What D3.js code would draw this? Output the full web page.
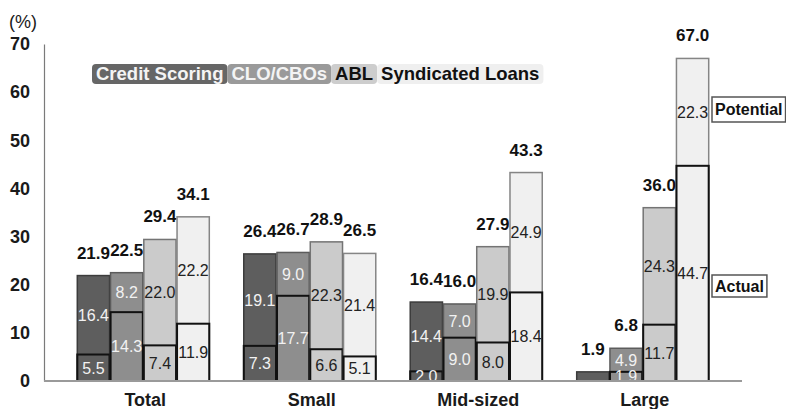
<!DOCTYPE html>
<html>
<head>
<meta charset="utf-8">
<script src="https://cdn.jsdelivr.net/npm/d3@7/dist/d3.min.js"></script>
<style>
  html, body { margin: 0; padding: 0; background: #fff; }
  svg { display: block; font-family: "Liberation Sans", Arial, sans-serif; }
</style>
</head>
<body>
<svg id="chart" width="786" height="409"></svg>
<script>
// Firm-size categories and instrument series
const categories = ["Total", "Small", "Mid-sized", "Large"];
const seriesNames = ["Credit Scoring", "CLO/CBOs", "ABL", "Syndicated Loans"];

// Actual usage (%) per category; null where no split is reported
const creditScoringActual = [5.5, 7.3, 2.0, null];
const cloActual = [14.3, 17.7, 9.0, 1.9];
const ablActual = [7.4, 6.6, 8.0, 11.7];
const syndicatedActual = [11.9, 5.1, 18.4, 44.7];

// Potential usage (%) on top of actual
const creditScoringPotential = [16.4, 19.1, 14.4, null];
const cloPotential = [8.2, 9.0, 7.0, 4.9];
const ablPotential = [22.0, 22.3, 19.9, 24.3];
const syndicatedPotential = [22.2, 21.4, 24.9, 22.3];

// Totals shown above each bar
const creditScoringTotal = [21.9, 26.4, 16.4, 1.9];
const cloTotal = [22.5, 26.7, 16.0, 6.8];
const ablTotal = [29.4, 28.9, 27.9, 36.0];
const syndicatedTotal = [34.1, 26.5, 43.3, 67.0];

const yTicks = [0, 10, 20, 30, 40, 50, 60, 70];

const actualBySeries = [creditScoringActual, cloActual, ablActual, syndicatedActual];
const potentialBySeries = [creditScoringPotential, cloPotential, ablPotential, syndicatedPotential];
const totalBySeries = [creditScoringTotal, cloTotal, ablTotal, syndicatedTotal];

const fills = ["#5e5e5e", "#8e8e8e", "#cbcbcb", "#f0f0f0"];
const legendFills = ["#666666", "#9a9a9a", "#cdcdcd", "#efefef"];
const strokes = ["#3c3c3c", "#5c5c5c", "#747474", "#858585"];
const labelColors = ["#f2f2f2", "#f2f2f2", "#222", "#222"];

const svg = d3.select("#chart");

const x0 = d3.scaleBand().domain(categories).range([44, 742])
  .paddingInner(0.207).paddingOuter(0.2);
const x1 = d3.scaleBand().domain(seriesNames).range([0, x0.bandwidth()])
  .paddingInner(0.03);
const y = d3.scaleLinear().domain([0, 70]).range([381, 44]);

// Flatten into one record per bar
const bars = [];
categories.forEach((c, ci) => {
  seriesNames.forEach((s, si) => {
    bars.push({
      category: c, series: s, si,
      actual: actualBySeries[si][ci],
      potential: potentialBySeries[si][ci],
      total: totalBySeries[si][ci]
    });
  });
});

// Y axis: line + bold tick labels
const yAxis = d3.axisLeft(y).tickValues(yTicks).tickSize(0).tickPadding(14)
  .tickFormat(d3.format("d"));
const yG = svg.append("g").attr("transform", "translate(44,0)").call(yAxis);
yG.select(".domain").attr("stroke", "#7a7a7a").attr("stroke-width", 1.2);
yG.selectAll("text")
  .attr("font-family", "Liberation Sans, Arial, sans-serif")
  .attr("font-size", 18).attr("font-weight", "bold").attr("fill", "#1a1a1a");

svg.append("text").attr("x", 9).attr("y", 28)
  .attr("font-size", 18).attr("fill", "#1a1a1a").text("(%)");

const groups = svg.append("g").selectAll("g.bar")
  .data(bars).join("g")
  .attr("transform", d => `translate(${x0(d.category) + x1(d.series)},0)`);

const bw = x1.bandwidth();

// Full bar (actual + potential)
groups.append("rect")
  .attr("x", 0).attr("width", bw)
  .attr("y", d => y(d.total))
  .attr("height", d => y(0) - y(d.total))
  .attr("fill", d => fills[d.si])
  .attr("stroke", d => strokes[d.si])
  .attr("stroke-width", 1.5);

// Actual portion, outlined in black
groups.filter(d => d.actual != null).append("rect")
  .attr("x", 0).attr("width", bw)
  .attr("y", d => y(d.actual))
  .attr("height", d => y(0) - y(d.actual))
  .attr("fill", "none")
  .attr("stroke", "#111")
  .attr("stroke-width", 2);

// Segment labels
groups.filter(d => d.actual != null).append("text")
  .attr("x", bw / 2)
  .attr("y", d => (y(0) + y(d.actual)) / 2)
  .attr("dy", "0.36em")
  .attr("text-anchor", "middle")
  .attr("font-size", 16)
  .attr("fill", d => labelColors[d.si])
  .text(d => d3.format(".1f")(d.actual));

groups.filter(d => d.potential != null).append("text")
  .attr("x", bw / 2)
  .attr("y", d => (y(d.actual) + y(d.total)) / 2)
  .attr("dy", "0.36em")
  .attr("text-anchor", "middle")
  .attr("font-size", 16)
  .attr("fill", d => labelColors[d.si])
  .text(d => d3.format(".1f")(d.potential));

// Totals above bars
groups.append("text")
  .attr("x", bw / 2)
  .attr("y", d => y(d.total) - 17)
  .attr("text-anchor", "middle")
  .attr("font-size", 17)
  .attr("font-weight", "bold")
  .attr("fill", "#111")
  .text(d => d3.format(".1f")(d.total));

// Baseline
svg.append("line")
  .attr("x1", 44).attr("x2", 742)
  .attr("y1", y(0)).attr("y2", y(0))
  .attr("stroke", "#9a9a9a").attr("stroke-width", 2);

// Category labels
svg.append("g").selectAll("text")
  .data(categories).join("text")
  .attr("x", d => x0(d) + x0.bandwidth() / 2 + 2)
  .attr("y", 406)
  .attr("text-anchor", "middle")
  .attr("font-size", 18).attr("font-weight", "bold").attr("fill", "#1a1a1a")
  .text(d => d);

// Legend: adjoining rounded swatches with the name inside
const legend = svg.append("g").attr("transform", "translate(92,64)");
let lx = 0;
seriesNames.forEach((s, i) => {
  const g = legend.append("g");
  const t = g.append("text")
    .attr("y", 16)
    .attr("font-size", 18.5).attr("font-weight", "bold")
    .attr("fill", i < 2 ? "#f4f4f4" : "#111")
    .text(s);
  const w = t.node().getComputedTextLength();
  const pad = 4;
  g.insert("rect", "text")
    .attr("x", lx).attr("y", 0)
    .attr("width", w + pad * 2).attr("height", 20)
    .attr("rx", 4)
    .attr("fill", legendFills[i]);
  t.attr("x", lx + pad);
  lx += w + pad * 2;
});

// Actual / Potential call-outs beside the largest bar
const notes = [
  { text: "Potential", x: 712, y: 97, h: 25 },
  { text: "Actual", x: 712, y: 275, h: 22 }
];
notes.forEach(n => {
  const g = svg.append("g");
  const t = g.append("text")
    .attr("x", n.x + 3).attr("y", n.y + n.h / 2)
    .attr("dy", "0.36em")
    .attr("font-size", 16).attr("font-weight", "bold").attr("fill", "#111")
    .text(n.text);
  const w = t.node().getComputedTextLength();
  g.insert("rect", "text")
    .attr("x", n.x).attr("y", n.y)
    .attr("width", w + 6).attr("height", n.h)
    .attr("fill", "#fff").attr("stroke", "#555").attr("stroke-width", 1.5);
});
</script>
</body>
</html>
